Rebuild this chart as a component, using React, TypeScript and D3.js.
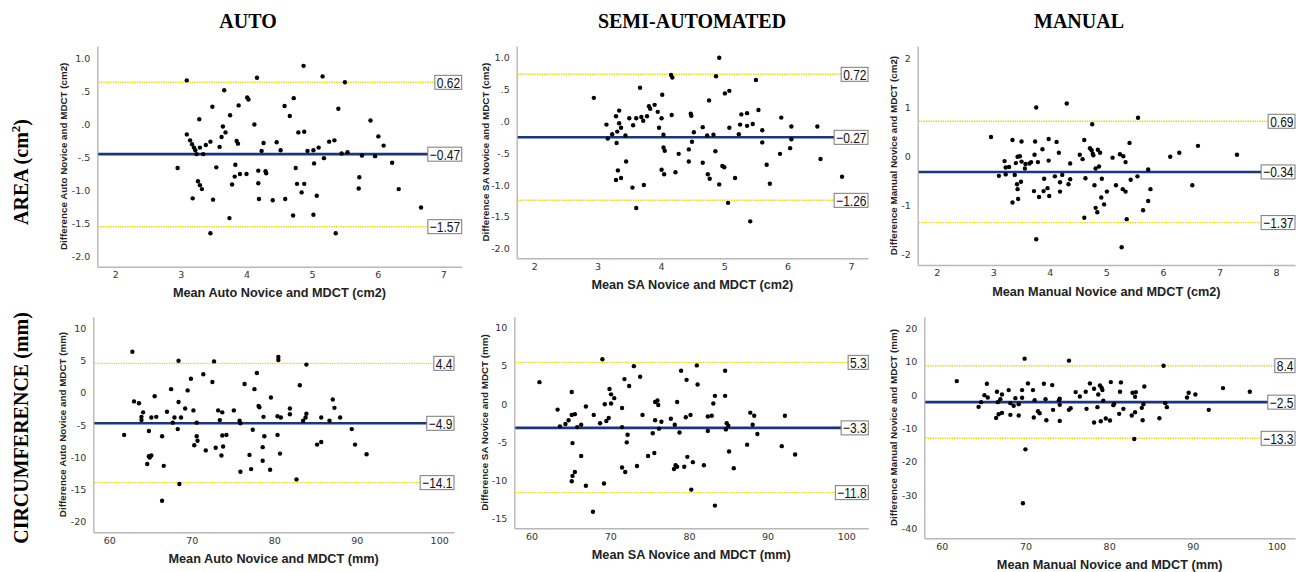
import React, { useEffect, useRef } from "react";
import * as d3 from "d3";

// [mean, difference] pairs
const autoAreaPoints: [number, number][] = [
  [2.95, -0.68], [3.09, 0.65], [3.09, -0.17], [3.14, -0.26], [3.17, -0.32], [3.2, -0.37], [3.22, -0.41], [3.24, -0.47],
  [3.28, 0.06], [3.29, -0.37], [3.26, -0.88], [3.29, -0.94], [3.32, -1.0], [3.18, -1.14], [3.34, -0.47], [3.38, -0.33],
  [3.45, -0.28], [3.48, 0.25], [3.49, -1.16], [3.45, -1.67], [3.54, -0.67], [3.59, -0.36], [3.62, -0.21], [3.64, -0.05],
  [3.66, 0.5], [3.68, -0.14], [3.74, -1.44], [3.75, 0.12], [3.78, -0.93], [3.82, -0.81], [3.83, -0.63], [3.85, -0.27],
  [3.87, -0.31], [3.88, 0.27], [3.9, -0.77], [4.0, -0.77], [4.01, 0.39], [4.03, 0.36], [4.12, -0.02], [4.16, 0.69],
  [4.18, -0.72], [4.18, -0.91], [4.19, -1.15], [4.23, -0.42], [4.26, -0.3], [4.29, -0.73], [4.3, -0.76], [4.4, -1.17],
  [4.46, -0.29], [4.52, -0.41], [4.58, 0.26], [4.59, -1.15], [4.66, 0.11], [4.71, -1.4], [4.72, 0.38], [4.75, -0.68],
  [4.77, -0.92], [4.79, -0.14], [4.84, -1.05], [4.87, 0.87], [4.88, -0.13], [4.88, -0.92], [4.93, -0.42], [5.02, -0.41],
  [5.02, -1.39], [5.03, -0.61], [5.07, -1.1], [5.1, -0.37], [5.16, 0.71], [5.18, -0.53], [5.26, -0.28], [5.34, -0.26],
  [5.36, -1.67], [5.4, 0.22], [5.45, -0.46], [5.5, 0.62], [5.54, -0.44], [5.72, -0.82], [5.71, -0.99], [5.76, -0.49],
  [5.89, 0.04], [5.96, -0.5], [6.01, -0.2], [6.09, -0.34], [6.22, -0.6], [6.32, -1.0], [6.66, -1.28],
];
const saAreaPoints: [number, number][] = [
  [2.94, 0.35], [3.14, -0.07], [3.16, -0.29], [3.23, -0.22], [3.29, 0.06], [3.3, -0.36], [3.31, -0.18], [3.32, -0.79],
  [3.29, -0.94], [3.34, 0.15], [3.34, -0.05], [3.37, -0.12], [3.37, -0.91], [3.44, -0.24], [3.45, -0.65], [3.5, 0.03],
  [3.55, -1.06], [3.56, -0.08], [3.61, 0.03], [3.61, -1.38], [3.67, 0.51], [3.69, 0.05], [3.72, -0.01], [3.73, -1.02],
  [3.78, 0.06], [3.81, 0.22], [3.83, 0.18], [3.9, 0.24], [3.95, 0.13], [3.97, -0.12], [4.01, 0.03], [4.02, 0.4],
  [4.01, -0.78], [4.04, -0.23], [4.04, -0.43], [4.05, -0.85], [4.06, -0.48], [4.16, 0.71], [4.18, 0.67], [4.17, 0.08],
  [4.23, -0.82], [4.28, -0.53], [4.44, -0.46], [4.44, -0.65], [4.47, 0.1], [4.48, 0.07], [4.49, -0.34], [4.52, -0.19],
  [4.66, -0.11], [4.66, -0.67], [4.73, -0.24], [4.74, -0.85], [4.76, 0.31], [4.77, -0.92], [4.83, -0.23], [4.86, -0.49],
  [4.87, 0.69], [4.92, 0.98], [4.92, -1.01], [4.97, -0.72], [5.0, -0.74], [5.01, 0.42], [5.06, -1.3], [5.08, -0.12],
  [5.08, 0.46], [5.17, -0.91], [5.23, -0.22], [5.25, -0.07], [5.27, 0.09], [5.36, -0.09], [5.36, 0.11], [5.41, -1.59],
  [5.45, -0.06], [5.5, 0.63], [5.54, 0.16], [5.6, -0.16], [5.6, -0.35], [5.67, -0.7], [5.72, -1.0], [5.88, -0.53],
  [5.9, 0.04], [6.04, -0.44], [6.06, -0.1], [6.06, -0.3], [6.47, -0.1], [6.52, -0.61], [6.86, -0.89],
];
const manualAreaPoints: [number, number][] = [
  [2.96, 0.37], [3.1, -0.42], [3.2, -0.12], [3.22, -0.25], [3.22, -0.39], [3.28, -0.24], [3.34, 0.31], [3.34, -0.96],
  [3.38, -0.4], [3.4, -0.16], [3.42, -0.59], [3.43, -0.69], [3.43, -0.03], [3.44, -0.89], [3.47, -0.02], [3.49, -0.54],
  [3.5, -0.13], [3.5, 0.28], [3.56, -0.27], [3.57, -0.18], [3.64, -0.17], [3.67, -0.14], [3.72, -0.73], [3.73, 0.01],
  [3.74, 0.28], [3.76, 0.97], [3.76, -1.71], [3.79, -0.14], [3.81, -0.85], [3.87, 0.12], [3.89, -0.73], [3.9, -0.48],
  [3.96, -0.67], [3.98, 0.33], [3.98, -0.11], [3.99, -0.83], [4.09, -0.43], [4.12, 0.27], [4.16, 0.05], [4.18, -0.74],
  [4.18, -0.55], [4.22, -0.4], [4.3, 1.05], [4.33, -0.59], [4.36, -0.17], [4.36, -0.49], [4.53, 0.01], [4.58, -0.08],
  [4.61, 0.31], [4.61, -1.27], [4.63, -0.47], [4.71, 0.14], [4.74, 0.1], [4.75, 0.63], [4.76, 0.03], [4.77, 0.0],
  [4.79, -0.61], [4.81, -1.07], [4.81, -0.27], [4.84, -1.16], [4.85, 0.11], [4.87, -0.23], [4.89, 0.05], [4.91, -0.86],
  [4.92, -0.48], [4.96, -1.0], [5.01, -0.74], [5.11, -0.05], [5.17, -0.61], [5.24, 0.02], [5.27, -1.87], [5.29, -0.69],
  [5.3, -0.02], [5.34, -0.14], [5.34, -0.74], [5.36, -1.3], [5.41, 0.25], [5.43, -0.5], [5.55, -0.43], [5.56, 0.76],
  [5.65, -1.12], [5.74, -0.29], [5.74, -0.93], [5.78, -0.69], [6.13, -0.03], [6.29, 0.05], [6.52, -0.61], [6.62, 0.19],
  [7.31, 0.01],
];
const autoCircPoints: [number, number][] = [
  [61.8, -6.7], [62.8, 6.2], [63.0, -1.5], [63.6, -1.8], [63.9, -3.9], [63.9, -4.4], [64.1, -3.2], [64.6, -11.2],
  [64.8, -6.1], [64.8, -10.0], [64.9, -10.2], [65.1, -9.9], [65.1, -4.0], [65.5, -0.7], [65.7, -3.9], [66.4, -6.9],
  [66.4, -16.9], [66.6, -11.5], [67.0, -3.1], [67.5, 0.4], [67.7, -4.8], [67.9, -4.0], [68.3, -5.8], [68.4, 4.8],
  [68.4, -1.6], [68.5, -14.3], [68.7, -4.0], [69.2, -2.6], [69.5, 0.2], [69.9, 2.0], [70.2, -2.9], [70.3, -8.3],
  [70.6, -4.8], [70.6, -6.9], [70.7, -7.6], [71.4, 2.7], [71.7, -9.1], [72.5, 1.5], [72.7, 4.7], [72.9, -8.7],
  [73.2, -2.9], [73.4, -4.4], [73.6, -9.9], [73.7, -3.2], [73.7, -6.8], [73.8, -8.5], [74.2, -6.7], [75.1, -2.9],
  [75.8, -4.5], [75.9, -12.4], [75.9, -4.9], [76.4, 1.2], [77.4, -5.9], [77.0, -9.8], [77.2, -12.0], [77.6, 0.4],
  [77.9, 2.9], [78.1, -2.2], [78.2, -2.4], [78.6, -8.6], [78.6, -10.7], [78.7, -3.9], [78.8, -6.9], [79.5, -12.1],
  [79.6, -0.9], [80.4, -3.8], [80.4, -6.7], [80.5, 5.4], [80.5, 4.9], [80.7, -9.6], [80.8, -4.0], [81.9, -2.6],
  [81.9, -3.5], [82.7, -13.6], [83.1, 1.0], [83.5, -4.5], [83.8, -4.0], [83.9, -3.4], [83.9, 4.2], [85.2, -8.2],
  [85.7, -7.8], [85.7, -4.0], [86.7, -4.5], [87.1, -1.2], [87.3, -2.5], [88.0, -4.0], [89.4, -5.8], [89.8, -8.2],
  [91.2, -9.7],
];
const saCircPoints: [number, number][] = [
  [61.0, 2.7], [63.3, -0.9], [63.6, -3.1], [64.3, -2.8], [64.7, -2.3], [65.1, -1.6], [65.1, 1.4], [65.2, -5.3],
  [65.1, -10.3], [65.2, -9.6], [65.5, -9.1], [65.5, -1.5], [65.8, -3.2], [66.3, -2.9], [66.3, -7.0], [66.9, -0.5],
  [66.9, -10.9], [67.8, -14.3], [67.9, -1.6], [68.7, -2.7], [69.0, 5.7], [69.2, -10.6], [69.3, -0.2], [69.5, -2.4],
  [69.8, -2.0], [69.9, 1.8], [70.1, 1.1], [70.1, -0.1], [70.5, 0.6], [71.5, -0.7], [71.5, -3.2], [71.5, -8.5],
  [71.8, 3.1], [71.9, -9.1], [72.1, -5.2], [72.2, -4.2], [72.4, 2.2], [73.0, 4.8], [73.4, -8.3], [73.8, 3.4],
  [74.1, -1.6], [74.8, -7.0], [75.4, -4.0], [75.6, -6.6], [75.7, 0.1], [75.7, -2.3], [76.0, 0.3], [76.1, -0.3],
  [76.2, -3.4], [76.5, -2.5], [77.7, -2.1], [78.1, -8.7], [78.2, -2.9], [78.3, -8.2], [78.5, -8.4], [78.5, 0.1],
  [78.8, -3.9], [79.0, 4.2], [79.4, -8.4], [79.6, -1.9], [79.7, 3.0], [79.8, -7.1], [80.2, -1.6], [80.3, -11.4],
  [80.5, -7.8], [81.0, 4.9], [81.1, 2.4], [81.9, -8.2], [82.4, -1.8], [82.4, -3.7], [82.9, -1.7], [83.1, -0.1],
  [83.3, 0.9], [83.3, -13.5], [84.6, 4.2], [84.6, 0.9], [84.7, -3.5], [84.8, -2.7], [85.0, -3.0], [85.1, -6.4],
  [85.7, -8.6], [87.4, -5.5], [87.8, -1.3], [88.1, -2.9], [88.3, -1.7], [88.7, -4.1], [91.8, -5.7], [92.2, -1.7],
  [93.5, -6.8],
];
const manualCircPoints: [number, number][] = [
  [61.8, 3.8], [64.4, -3.9], [64.7, -2.5], [65.1, -0.4], [65.4, 3.0], [65.5, -1.1], [66.5, -7.2], [66.6, 0.6],
  [66.7, -2.5], [66.8, -6.1], [67.0, -1.6], [67.2, -0.2], [67.2, -5.7], [68.0, 1.1], [68.2, -2.8], [68.2, -6.3],
  [68.6, -3.6], [68.8, -1.3], [69.2, -3.1], [69.2, -6.5], [69.6, -1.2], [69.6, 1.1], [69.9, 10.5], [70.0, -16.6],
  [69.7, -32.7], [70.3, 3.1], [70.9, 1.1], [71.0, -7.1], [71.1, -1.9], [71.5, -5.2], [71.7, -5.8], [72.2, 3.0],
  [72.4, -1.6], [72.5, -7.9], [73.2, 2.6], [73.3, -4.8], [74.0, -1.9], [74.1, -3.3], [74.1, -1.5], [74.1, -8.1],
  [75.2, 9.9], [75.2, -4.8], [75.4, -4.3], [76.0, 0.5], [76.5, -0.8], [77.2, 0.6], [77.3, -4.5], [77.7, 3.1],
  [78.2, 1.5], [78.2, -8.6], [78.6, -4.0], [78.7, -0.2], [78.9, 2.5], [79.1, 1.8], [79.2, 1.1], [79.3, -2.1],
  [79.0, -8.2], [79.6, -7.4], [80.1, -8.0], [80.2, 3.5], [80.5, -3.4], [80.6, -3.0], [81.4, 3.4], [81.3, 0.6],
  [81.7, -4.5], [81.2, -6.0], [82.8, 0.3], [83.2, 0.5], [83.1, -0.9], [82.7, -6.5], [83.1, -5.5], [84.1, -3.1],
  [83.9, -4.2], [84.0, -7.9], [84.2, 2.2], [83.0, -13.5], [86.5, 8.4], [86.7, -2.8], [86.9, -4.0], [86.0, -7.3],
  [89.3, -1.1], [89.5, 0.3], [90.3, -0.2], [91.9, -4.8], [93.6, 1.7], [96.8, 0.6],
];

// upper limit, mean difference, lower limit
const autoAreaLimits = [0.62, -0.47, -1.57];
const saAreaLimits = [0.72, -0.27, -1.26];
const manualAreaLimits = [0.69, -0.34, -1.37];
const autoCircLimits = [4.4, -4.9, -14.1];
const saCircLimits = [5.3, -3.3, -11.8];
const manualCircLimits = [8.4, -2.5, -13.3];

const columnTitles = ["AUTO", "SEMI-AUTOMATED", "MANUAL"];
const areaXTicks = [2, 3, 4, 5, 6, 7];
const manualAreaXTicks = [2, 3, 4, 5, 6, 7, 8];
const areaYTicks = [1, 0.5, 0, -0.5, -1, -1.5, -2];
const manualAreaYTicks = [2, 1, 0, -1, -2];
const circXTicks = [60, 70, 80, 90, 100];
const autoCircYTicks = [10, 5, 0, -5, -10, -15, -20];
const saCircYTicks = [10, 5, 0, -5, -10, -15];
const manualCircYTicks = [20, 10, 0, -10, -20, -30, -40];

const spssFmt = (d: number) => {
  const s = d.toFixed(1);
  return s.replace(/^(-?)0\./, "$1.");
};
const intFmt = (d: number) => String(d);

const panels = [
  { pts: autoAreaPoints, lim: autoAreaLimits, xt: areaXTicks, yt: areaYTicks, yf: spssFmt, dec: 2,
    xTitle: "Mean Auto Novice and MDCT (cm2)", yTitle: "Difference Auto Novice and MDCT (cm2)",
    xd: [1.726, 7.28], yd: [-2.177, 1.171], l: 97.3, r: 461.7, t: 46, b: 266.7, ytx: 63.3 },
  { pts: saAreaPoints, lim: saAreaLimits, xt: areaXTicks, yt: areaYTicks, yf: spssFmt, dec: 2,
    xTitle: "Mean SA Novice and MDCT (cm2)", yTitle: "Difference SA Novice and MDCT (cm2)",
    xd: [1.722, 7.27], yd: [-2.171, 1.165], l: 516.7, r: 868, t: 46, b: 258.3, ytx: 485 },
  { pts: manualAreaPoints, lim: manualAreaLimits, xt: manualAreaXTicks, yt: manualAreaYTicks, yf: intFmt, dec: 2,
    xTitle: "Mean Manual Novice and MDCT (cm2)", yTitle: "Difference Manual Novice and MDCT (cm2)",
    xd: [1.664, 8.336], yd: [-2.232, 2.22], l: 917.7, r: 1295, t: 46, b: 265, ytx: 893.3 },
  { pts: autoCircPoints, lim: autoCircLimits, xt: circXTicks, yt: autoCircYTicks, yf: intFmt, dec: 1,
    xTitle: "Mean Auto Novice and MDCT (mm)", yTitle: "Difference Auto Novice and MDCT (mm)",
    xd: [58.06, 101.8], yd: [-21.8, 11.63], l: 93.3, r: 454, t: 316.7, b: 532.3, ytx: 62.7 },
  { pts: saCircPoints, lim: saCircLimits, xt: circXTicks, yt: saCircYTicks, yf: intFmt, dec: 1,
    xTitle: "Mean SA Novice and MDCT (mm)", yTitle: "Difference SA Novice and MDCT (mm)",
    xd: [57.8, 102.8], yd: [-16.48, 11.29], l: 514.3, r: 868.3, t: 316.7, b: 528.3, ytx: 484.3 },
  { pts: manualCircPoints, lim: manualCircLimits, xt: circXTicks, yt: manualCircYTicks, yf: intFmt, dec: 1,
    xTitle: "Mean Manual Novice and MDCT (mm)", yTitle: "Difference Manual Novice and MDCT (mm)",
    xd: [57.92, 102.2], yd: [-43.19, 23.04], l: 924.3, r: 1295, t: 316.7, b: 538.3, ytx: 893.3 },
];

const W = 1297;
const H = 572;

export default function App() {
  const ref = useRef<SVGSVGElement>(null);

  useEffect(() => {
    const svg = d3.select(ref.current);
    svg.selectAll("*").remove();

    svg.append("rect").attr("width", W).attr("height", H).attr("fill", "#fff");

    // column headers
    const headerX = [248, 692, 1079];
    columnTitles.forEach((t, i) => {
      svg.append("text")
        .attr("x", headerX[i]).attr("y", 28)
        .attr("text-anchor", "middle")
        .attr("font-family", "Liberation Serif")
        .attr("font-weight", "bold")
        .attr("font-size", 20)
        .text(t);
    });

    // row labels
    const area = svg.append("text")
      .attr("transform", "translate(28,172) rotate(-90)")
      .attr("text-anchor", "middle")
      .attr("font-family", "Liberation Serif")
      .attr("font-weight", "bold")
      .attr("font-size", 20);
    area.append("tspan").text("AREA (cm");
    area.append("tspan").attr("font-size", 13).attr("dy", -8).text("2");
    area.append("tspan").attr("dy", 8).text(")");

    svg.append("text")
      .attr("transform", "translate(28,428) rotate(-90)")
      .attr("text-anchor", "middle")
      .attr("font-family", "Liberation Serif")
      .attr("font-weight", "bold")
      .attr("font-size", 20)
      .text("CIRCUMFERENCE (mm)");

    panels.forEach((p) => {
      const x = d3.scaleLinear().domain(p.xd).range([p.l, p.r]);
      const y = d3.scaleLinear().domain(p.yd).range([p.b, p.t]);
      const g = svg.append("g");

      // axes
      const yAxis = g.append("g")
        .attr("transform", `translate(${p.l},0)`)
        .call(d3.axisLeft(y).tickValues(p.yt).tickSize(0).tickSizeOuter(0).tickPadding(7).tickFormat(p.yf as any));
      const xAxis = g.append("g")
        .attr("transform", `translate(0,${p.b})`)
        .call(d3.axisBottom(x).tickValues(p.xt).tickSize(0).tickSizeOuter(0).tickPadding(4.5).tickFormat(intFmt as any));
      [yAxis, xAxis].forEach((a) => {
        a.attr("font-family", "DejaVu Sans").attr("font-size", 9.5);
        a.select(".domain").attr("stroke", "#b8b8b8").attr("stroke-width", 1.4);
        a.selectAll("text").attr("fill", "#333");
      });
      yAxis.selectAll("text").attr("dy", "0.45em");

      // axis titles
      g.append("text")
        .attr("x", (p.l + p.r) / 2).attr("y", p.b + 30.5)
        .attr("text-anchor", "middle")
        .attr("font-family", "Liberation Sans").attr("font-weight", "bold")
        .attr("font-size", 12.7).attr("fill", "#222")
        .text(p.xTitle);
      g.append("text")
        .attr("transform", `translate(${p.ytx + 3.5},${(p.t + p.b) / 2}) rotate(-90)`)
        .attr("text-anchor", "middle")
        .attr("font-family", "Liberation Sans").attr("font-weight", "bold")
        .attr("font-size", 9.8).attr("fill", "#222")
        .text(p.yTitle);

      // limits of agreement (dotted yellow) and mean difference (navy)
      [p.lim[0], p.lim[2]].forEach((v) => {
        g.append("line")
          .attr("x1", p.l + 1).attr("x2", p.r)
          .attr("y1", y(v)).attr("y2", y(v))
          .attr("stroke", "#e4dc00").attr("stroke-width", 1.4)
          .attr("stroke-dasharray", "1.4 1");
      });
      g.append("line")
        .attr("x1", p.l + 1).attr("x2", p.r)
        .attr("y1", y(p.lim[1])).attr("y2", y(p.lim[1]))
        .attr("stroke", "#1b3580").attr("stroke-width", 2.6);

      // points
      g.append("g").selectAll("circle").data(p.pts).join("circle")
        .attr("cx", (d) => x(d[0]))
        .attr("cy", (d) => y(d[1]))
        .attr("r", 2.2)
        .attr("fill", "#000");

      // value boxes
      p.lim.forEach((v) => {
        const label = (v < 0 ? "\u2212" : "") + Math.abs(v).toFixed(p.dec);
        const bg = g.append("g");
        const rect = bg.append("rect");
        const txt = bg.append("text")
          .attr("transform", `translate(${p.r - 1.5},${y(v) + 5.5}) scale(0.8,1)`)
          .attr("text-anchor", "end")
          .attr("font-family", "Liberation Sans")
          .attr("font-size", 15)
          .attr("fill", "#111")
          .text(label);
        const w = (txt.node() as SVGTextElement).getComputedTextLength() * 0.8;
        rect.attr("x", p.r - w - 3.5).attr("y", y(v) - 7)
          .attr("width", w + 3.5).attr("height", 14)
          .attr("fill", "#fff").attr("stroke", "#7a7a7a").attr("stroke-width", 1);
      });
    });
  }, []);

  return (
    <div style={{ position: "absolute", left: 0, top: 0 }}>
      <svg ref={ref} width={W} height={H} style={{ display: "block" }} />
    </div>
  );
}
